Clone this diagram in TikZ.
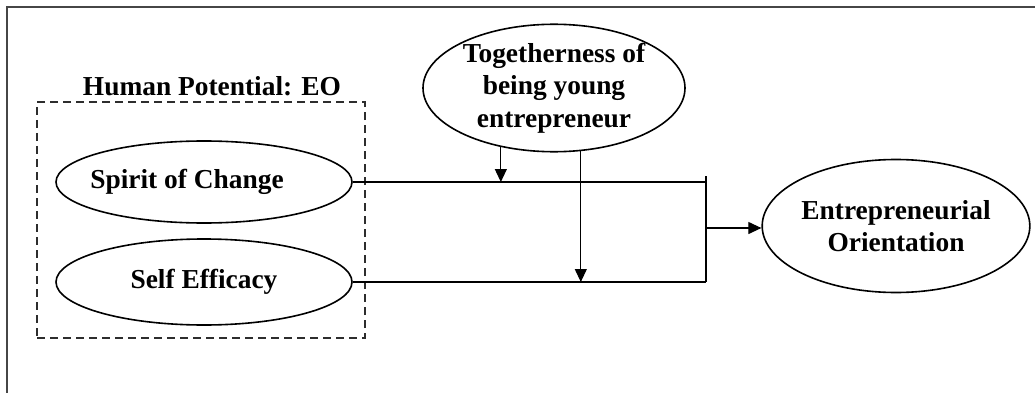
\documentclass[tikz,border=0pt]{standalone}
\usepackage{fontspec}
\setmainfont{Liberation Serif}
\usetikzlibrary{positioning,arrows.meta,shapes.geometric}
\definecolor{framegray}{RGB}{70,70,70}
\definecolor{dashgray}{RGB}{45,45,45}

\begin{document}
\begin{tikzpicture}[x=1pt,y=-1pt,font=\fontsize{27.4}{32.5}\selectfont\bfseries]
\tikzset{
  EL/.style={draw,ellipse,line width=1.6pt,align=center,inner sep=0pt},
  DB/.style={draw=dashgray,rectangle,dash pattern=on 8pt off 5pt,line width=1.6pt,inner sep=0pt},
  LN/.style={line width=1.1pt},
  FL/.style={-{Triangle[length=13pt,width=12pt]},line width=1.1pt},
}
\useasboundingbox (0,0) rectangle (1035,393);

% outer frame (cropped)
\draw[framegray,line width=1.1pt] (1035,7)--(7,7)--(7,393);

\node[DB,minimum width=328pt,minimum height=236pt,
      label={[xshift=11pt,label distance=2pt]above:Human Potential: EO}](hp) at (201,220){};

\node[EL,minimum width=296pt,minimum height=82pt](spirit) at (204,182){\hspace*{-34pt}Spirit of Change};
\node[EL,minimum width=296pt,minimum height=86pt](self)   at (204,282){Self Efficacy};

\node[EL,minimum width=262pt,minimum height=126pt](tog) at (554,88){Togetherness of\\being young\\entrepreneur};
\node[EL,minimum width=242pt,minimum height=133pt](eo)  at (896,226){Entrepreneurial\\Orientation};

\coordinate (jt) at (706,182);
\coordinate (jb) at (706,282);
\coordinate (jm) at (706,228);

\draw[LN](spirit.east)--(jt);
\draw[LN](self.east)--(jb);
\draw[LN]([yshift=6pt]jt)--(jb);

\draw[FL](jm)--(jm -| eo.west);

\draw[FL](tog.228)--(tog.228 |- jt);
\draw[FL](tog.293)--(tog.293 |- jb);

\end{tikzpicture}
\end{document}
